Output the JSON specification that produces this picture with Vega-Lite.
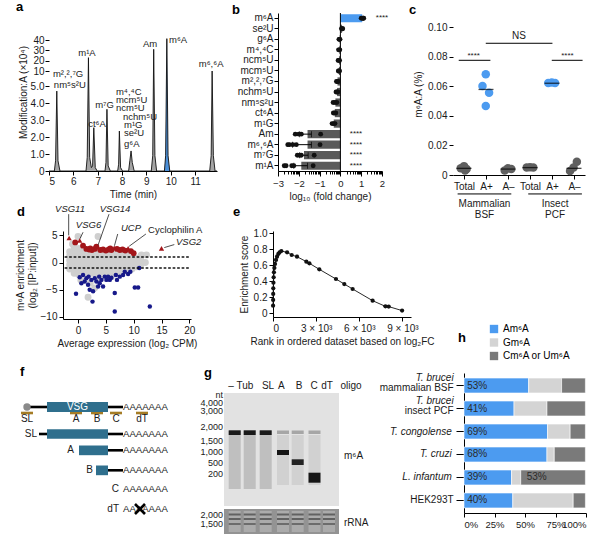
{
"$schema": "https://vega.github.io/schema/vega-lite/v6.json",
"padding": {"left": 7, "top": -18, "right": 0, "bottom": 0},
"background": "white",
"config": {
 "font": "Liberation Sans",
 "view": {"stroke": null},
 "axis": {"labelFont": "Liberation Sans", "titleFont": "Liberation Sans", "labelFontSize": 10, "titleFontSize": 10, "titleFontWeight": "normal", "labelColor": "#1a1a1a", "titleColor": "#1a1a1a", "domainColor": "#000", "tickColor": "#000", "tickSize": 4, "labelPadding": 2, "grid": false},
 "axisX": {"labelOverlap": false},
 "title": {"fontSize": 13, "fontWeight": "bold", "anchor": "start", "frame": "group", "baseline": "alphabetic", "offset": 0, "color": "#000", "font": "Liberation Sans"},
 "text": {"font": "Liberation Sans", "color": "#1a1a1a"},
 "legend": {"labelFont": "Liberation Sans"}
},
"datasets": {
 "trace": [{"t":5.0,"v":0},{"t":5.22,"v":0},{"t":5.27,"v":0.6},{"t":5.32,"v":4.7},{"t":5.37,"v":0.6},{"t":5.45,"v":0},{"t":6.52,"v":0},{"t":6.57,"v":0.8},{"t":6.62,"v":22.9},{"t":6.67,"v":0.8},{"t":6.74,"v":0.2},{"t":6.79,"v":0.3},{"t":6.84,"v":2.55},{"t":6.9,"v":0.2},{"t":6.98,"v":0},{"t":7.3,"v":0},{"t":7.34,"v":0.5},{"t":7.38,"v":3.63},{"t":7.43,"v":0.3},{"t":7.52,"v":0},{"t":7.82,"v":0},{"t":7.86,"v":0.4},{"t":7.89,"v":2.35},{"t":7.94,"v":0.2},{"t":8.02,"v":0},{"t":8.27,"v":0},{"t":8.32,"v":0.6},{"t":8.37,"v":1.18},{"t":8.42,"v":0.5},{"t":8.5,"v":0},{"t":9.2,"v":0},{"t":9.26,"v":0.9},{"t":9.3,"v":31},{"t":9.35,"v":0.9},{"t":9.42,"v":0},{"t":9.74,"v":0},{"t":9.79,"v":0.9},{"t":9.84,"v":41.3},{"t":9.89,"v":0.9},{"t":9.96,"v":0},{"t":11.6,"v":0},{"t":11.66,"v":0.9},{"t":11.7,"v":10},{"t":11.75,"v":0.9},{"t":11.82,"v":0},{"t":11.9,"v":0}],
 "aLabC": [{"t":6.56,"v":27.4,"lab":"m¹A"},{"t":6.97,"v":2.76,"lab":"ct⁶A"},{"t":7.28,"v":3.88,"lab":"m⁷G"},{"t":9.15,"v":36.1,"lab":"Am"},{"t":11.66,"v":16.8,"lab":"m⁶,⁶A"}],
 "aLabL": [{"t":5.16,"v":9.0,"lab":"m²,²,⁷G"},{"t":5.2,"v":5.33,"lab":"nm⁵s²U"},{"t":7.75,"v":4.65,"lab":"m⁴,⁴C"},{"t":7.75,"v":4.18,"lab":"mcm⁵U"},{"t":7.75,"v":3.7,"lab":"ncm⁵U"},{"t":8.04,"v":3.18,"lab":"nchm⁵U"},{"t":8.08,"v":2.7,"lab":"m¹G"},{"t":8.08,"v":2.24,"lab":"se²U"},{"t":8.08,"v":1.6,"lab":"g⁶A"},{"t":9.93,"v":40,"lab":"m⁶A"}],
 "bBars": [{"m":"m⁶A","v":1.05},{"m":"se²U","v":0.08},{"m":"g⁶A","v":-0.04},{"m":"m⁴,⁴C","v":-0.05},{"m":"ncm⁵U","v":-0.07},{"m":"mcm⁵U","v":-0.07},{"m":"m²,²,⁷G","v":-0.14},{"m":"nchm⁵U","v":-0.16},{"m":"nm⁵s²u","v":-0.24},{"m":"ct⁶A","v":-0.27},{"m":"m¹G","v":-0.32},{"m":"Am","v":-1.58},{"m":"m⁶,⁶A","v":-1.58},{"m":"m⁷G","v":-1.75},{"m":"m¹A","v":-1.88}],
 "bDots": [{"m":"m⁶A","v":1.0},{"m":"m⁶A","v":1.06},{"m":"m⁶A","v":1.1},{"m":"m⁶A","v":1.12},{"m":"se²U","v":0.05},{"m":"se²U","v":0.09},{"m":"se²U","v":0.11},{"m":"g⁶A","v":-0.07},{"m":"g⁶A","v":-0.04},{"m":"g⁶A","v":-0.02},{"m":"m⁴,⁴C","v":-0.09},{"m":"m⁴,⁴C","v":-0.05},{"m":"m⁴,⁴C","v":-0.03},{"m":"ncm⁵U","v":-0.11},{"m":"ncm⁵U","v":-0.07},{"m":"ncm⁵U","v":-0.04},{"m":"mcm⁵U","v":-0.1},{"m":"mcm⁵U","v":-0.07},{"m":"mcm⁵U","v":-0.04},{"m":"m²,²,⁷G","v":-0.19},{"m":"m²,²,⁷G","v":-0.14},{"m":"m²,²,⁷G","v":-0.1},{"m":"nchm⁵U","v":-0.21},{"m":"nchm⁵U","v":-0.16},{"m":"nchm⁵U","v":-0.12},{"m":"nm⁵s²u","v":-0.35},{"m":"nm⁵s²u","v":-0.26},{"m":"nm⁵s²u","v":-0.17},{"m":"ct⁶A","v":-0.34},{"m":"ct⁶A","v":-0.28},{"m":"ct⁶A","v":-0.22},{"m":"m¹G","v":-0.4},{"m":"m¹G","v":-0.33},{"m":"m¹G","v":-0.26},{"m":"Am","v":-2.17},{"m":"Am","v":-2.0},{"m":"Am","v":-1.88},{"m":"Am","v":-0.95},{"m":"m⁶,⁶A","v":-2.53},{"m":"m⁶,⁶A","v":-2.45},{"m":"m⁶,⁶A","v":-2.29},{"m":"m⁶,⁶A","v":-2.12},{"m":"m⁶,⁶A","v":-0.98},{"m":"m⁷G","v":-2.07},{"m":"m⁷G","v":-1.96},{"m":"m⁷G","v":-1.88},{"m":"m⁷G","v":-1.26},{"m":"m¹A","v":-2.7},{"m":"m¹A","v":-2.61},{"m":"m¹A","v":-2.34},{"m":"m¹A","v":-2.24},{"m":"m¹A","v":-1.31}],
 "bErr": [{"m":"Am","lo":-1.96,"hi":-1.39},{"m":"m⁶,⁶A","lo":-2.3,"hi":-1.39},{"m":"m⁷G","lo":-1.96,"hi":-1.55},{"m":"m¹A","lo":-2.24,"hi":-1.58}],
 "bStar": [{"m":"Am"},{"m":"m⁶,⁶A"},{"m":"m⁷G"},{"m":"m¹A"}],
 "cPts": [{"x":0.85,"v":0.0045,"frac":"Total"},{"x":1.0,"v":0.006,"frac":"Total"},{"x":1.12,"v":0.004,"frac":"Total"},{"x":1.05,"v":0.003,"frac":"Total"},{"x":1.99,"v":0.068,"frac":"A+"},{"x":1.84,"v":0.0601,"frac":"A+"},{"x":2.14,"v":0.0556,"frac":"A+"},{"x":1.99,"v":0.0466,"frac":"A+"},{"x":2.85,"v":0.003,"frac":"A–"},{"x":3.0,"v":0.0045,"frac":"A–"},{"x":3.15,"v":0.004,"frac":"A–"},{"x":3.85,"v":0.005,"frac":"Total"},{"x":4.0,"v":0.0052,"frac":"Total"},{"x":4.15,"v":0.005,"frac":"Total"},{"x":4.83,"v":0.0622,"frac":"A+"},{"x":4.99,"v":0.0625,"frac":"A+"},{"x":5.14,"v":0.0621,"frac":"A+"},{"x":5.82,"v":0.0027,"frac":"A–"},{"x":5.98,"v":0.005,"frac":"A–"},{"x":6.13,"v":0.009,"frac":"A–"}],
 "cMed": [{"x":1,"v":0.0045},{"x":2,"v":0.0578},{"x":3,"v":0.004},{"x":4,"v":0.005},{"x":5,"v":0.062},{"x":6,"v":0.0045}],
 "cLine": [{"x":0.76,"xe":2.2,"v":0.0775},{"x":1.99,"xe":5.02,"v":0.089},{"x":4.99,"xe":6.39,"v":0.0775},{"x":0.71,"xe":3.15,"v":-0.0128},{"x":3.92,"xe":6.36,"v":-0.0128}],
 "cStar": [{"x":1.44,"v":0.0805,"lab":"****"},{"x":5.7,"v":0.0805,"lab":"****"}],
 "cNS": [{"x":3.5,"v":0.0939,"lab":"NS"}],
 "cGrp": [{"x":1.93,"v":-0.0162,"lab":["Mammalian","BSF"]},{"x":5.14,"v":-0.0162,"lab":["Insect","PCF"]}],
 "dPts": [
  {"x":-1.5,"y":-1.2,"k":"n"},{"x":-1.5,"y":-0.4,"k":"n"},{"x":-1.5,"y":0.4,"k":"n"},{"x":-1.5,"y":1.2,"k":"n"},{"x":-1.5,"y":2.0,"k":"n"},
  {"x":-0.7,"y":-2.0,"k":"n"},{"x":-0.7,"y":-1.2,"k":"n"},{"x":-0.7,"y":-0.4,"k":"n"},{"x":-0.7,"y":0.4,"k":"n"},{"x":-0.7,"y":1.2,"k":"n"},{"x":-0.7,"y":2.0,"k":"n"},{"x":-0.7,"y":2.8,"k":"n"},
  {"x":0.1,"y":-2.2,"k":"n"},{"x":0.1,"y":-1.4,"k":"n"},{"x":0.1,"y":-0.6,"k":"n"},{"x":0.1,"y":0.2,"k":"n"},{"x":0.1,"y":1.0,"k":"n"},{"x":0.1,"y":1.8,"k":"n"},{"x":0.1,"y":2.6,"k":"n"},
  {"x":0.9,"y":-2.0,"k":"n"},{"x":0.9,"y":-1.2,"k":"n"},{"x":0.9,"y":-0.4,"k":"n"},{"x":0.9,"y":0.4,"k":"n"},{"x":0.9,"y":1.2,"k":"n"},{"x":0.9,"y":2.0,"k":"n"},
  {"x":1.7,"y":-2.2,"k":"n"},{"x":1.7,"y":-1.4,"k":"n"},{"x":1.7,"y":-0.6,"k":"n"},{"x":1.7,"y":0.2,"k":"n"},{"x":1.7,"y":1.0,"k":"n"},{"x":1.7,"y":1.8,"k":"n"},
  {"x":2.5,"y":-2.0,"k":"n"},{"x":2.5,"y":-1.2,"k":"n"},{"x":2.5,"y":-0.4,"k":"n"},{"x":2.5,"y":0.4,"k":"n"},{"x":2.5,"y":1.2,"k":"n"},{"x":2.5,"y":2.0,"k":"n"},
  {"x":3.3,"y":-2.2,"k":"n"},{"x":3.3,"y":-1.4,"k":"n"},{"x":3.3,"y":-0.6,"k":"n"},{"x":3.3,"y":0.2,"k":"n"},{"x":3.3,"y":1.0,"k":"n"},{"x":3.3,"y":1.8,"k":"n"},
  {"x":4.1,"y":-1.8,"k":"n"},{"x":4.1,"y":-1.0,"k":"n"},{"x":4.1,"y":-0.2,"k":"n"},{"x":4.1,"y":0.6,"k":"n"},{"x":4.1,"y":1.4,"k":"n"},{"x":4.1,"y":2.0,"k":"n"},
  {"x":4.9,"y":-2.0,"k":"n"},{"x":4.9,"y":-1.2,"k":"n"},{"x":4.9,"y":-0.4,"k":"n"},{"x":4.9,"y":0.4,"k":"n"},{"x":4.9,"y":1.2,"k":"n"},{"x":4.9,"y":1.9,"k":"n"},
  {"x":5.7,"y":-1.8,"k":"n"},{"x":5.7,"y":-1.0,"k":"n"},{"x":5.7,"y":-0.2,"k":"n"},{"x":5.7,"y":0.6,"k":"n"},{"x":5.7,"y":1.4,"k":"n"},{"x":5.7,"y":2.0,"k":"n"},
  {"x":6.5,"y":-1.6,"k":"n"},{"x":6.5,"y":-0.8,"k":"n"},{"x":6.5,"y":0.0,"k":"n"},{"x":6.5,"y":0.8,"k":"n"},{"x":6.5,"y":1.6,"k":"n"},
  {"x":7.3,"y":-1.8,"k":"n"},{"x":7.3,"y":-1.0,"k":"n"},{"x":7.3,"y":-0.2,"k":"n"},{"x":7.3,"y":0.6,"k":"n"},{"x":7.3,"y":1.4,"k":"n"},{"x":7.3,"y":2.0,"k":"n"},
  {"x":8.1,"y":-1.4,"k":"n"},{"x":8.1,"y":-0.6,"k":"n"},{"x":8.1,"y":0.2,"k":"n"},{"x":8.1,"y":1.0,"k":"n"},{"x":8.1,"y":1.8,"k":"n"},
  {"x":8.9,"y":-1.5,"k":"n"},{"x":8.9,"y":-0.7,"k":"n"},{"x":8.9,"y":0.1,"k":"n"},{"x":8.9,"y":0.9,"k":"n"},{"x":8.9,"y":1.6,"k":"n"},
  {"x":9.7,"y":-1.2,"k":"n"},{"x":9.7,"y":-0.4,"k":"n"},{"x":9.7,"y":0.4,"k":"n"},{"x":9.7,"y":1.2,"k":"n"},
  {"x":10.5,"y":-0.8,"k":"n"},{"x":10.5,"y":0.0,"k":"n"},{"x":10.5,"y":0.8,"k":"n"},
  {"x":11.3,"y":-0.4,"k":"n"},{"x":11.3,"y":0.4,"k":"n"},{"x":11.3,"y":1.2,"k":"n"},{"x":12.1,"y":0.0,"k":"n"},
  {"x":0.0,"y":4.8,"k":"n"},{"x":3.6,"y":4.8,"k":"n"},{"x":11.4,"y":1.4,"k":"n"},{"x":12.3,"y":1.4,"k":"n"},{"x":1.8,"y":-6.4,"k":"n"},{"x":3.0,"y":-4.7,"k":"n"},{"x":2.2,"y":-3.8,"k":"n"},{"x":4.0,"y":-3.0,"k":"n"},{"x":0.5,"y":-3.2,"k":"n"},{"x":-1.0,"y":3.4,"k":"n"},{"x":6.0,"y":-2.6,"k":"n"},{"x":9.5,"y":1.9,"k":"n"},
  {"x":-0.5,"y":3.7,"k":"up"},{"x":0.9,"y":3.1,"k":"up"},{"x":1.5,"y":2.5,"k":"up"},{"x":2.0,"y":2.4,"k":"up"},{"x":2.2,"y":2.6,"k":"up"},{"x":2.5,"y":2.3,"k":"up"},{"x":3.0,"y":2.5,"k":"up"},{"x":3.3,"y":2.9,"k":"up"},{"x":4.0,"y":2.3,"k":"up"},{"x":4.5,"y":2.4,"k":"up"},{"x":5.0,"y":2.2,"k":"up"},{"x":5.5,"y":2.4,"k":"up"},{"x":5.8,"y":2.6,"k":"up"},{"x":6.0,"y":2.3,"k":"up"},{"x":7.0,"y":2.5,"k":"up"},{"x":7.5,"y":2.3,"k":"up"},{"x":8.0,"y":2.4,"k":"up"},{"x":8.5,"y":2.2,"k":"up"},{"x":9.5,"y":2.1,"k":"up"},{"x":10.0,"y":1.7,"k":"up"},
  {"x":-0.36,"y":-5.75,"k":"dn"},{"x":0.6,"y":-3.8,"k":"dn"},{"x":1.8,"y":-4.1,"k":"dn"},{"x":2.1,"y":-5.0,"k":"dn"},{"x":2.7,"y":-5.3,"k":"dn"},{"x":2.6,"y":-7.2,"k":"dn"},{"x":3.3,"y":-3.5,"k":"dn"},{"x":3.9,"y":-3.8,"k":"dn"},{"x":4.5,"y":-4.4,"k":"dn"},{"x":3.6,"y":-4.4,"k":"dn"},{"x":5.1,"y":-3.2,"k":"dn"},{"x":5.7,"y":-3.2,"k":"dn"},{"x":6.6,"y":-5.6,"k":"dn"},{"x":6.6,"y":-9.0,"k":"dn"},{"x":6.8,"y":-2.3,"k":"dn"},{"x":7.5,"y":-2.6,"k":"dn"},{"x":8.1,"y":-2.3,"k":"dn"},{"x":9.0,"y":-2.1,"k":"dn"},{"x":10.2,"y":-4.6,"k":"dn"},{"x":10.8,"y":-4.6,"k":"dn"},{"x":12.9,"y":-8.1,"k":"dn"},{"x":1.2,"y":-3.5,"k":"dn"},{"x":1.5,"y":-2.9,"k":"dn"},{"x":2.4,"y":-3.2,"k":"dn"},{"x":3.0,"y":-2.9,"k":"dn"},{"x":4.2,"y":-3.2,"k":"dn"},{"x":4.8,"y":-2.6,"k":"dn"},{"x":5.4,"y":-2.6,"k":"dn"},{"x":6.0,"y":-2.8,"k":"dn"},{"x":8.4,"y":-1.7,"k":"dn"},{"x":9.4,"y":-1.7,"k":"dn"},{"x":11.0,"y":-1.0,"k":"dn"},{"x":0.9,"y":-2.3,"k":"dn"},{"x":0.3,"y":-2.7,"k":"dn"},{"x":1.9,"y":-2.6,"k":"dn"},{"x":3.8,"y":-2.6,"k":"dn"},{"x":7.0,"y":-3.2,"k":"dn"}
 ],
 "dTri": [{"x":-1.6,"y":4.5},{"x":0.3,"y":4.05},{"x":3.4,"y":2.9},{"x":6.5,"y":2.7},{"x":9.0,"y":2.6},{"x":15.0,"y":2.6}],
 "dDot": [{"x":-2.3,"xe":20,"y":1},{"x":-2.3,"xe":20,"y":-1}],
 "dArr": [{"x":-1.68,"y":8.9,"xe":-1.68,"ye":5.0},{"x":0.9,"y":5.57,"xe":0.35,"ye":4.4},{"x":5.57,"y":8.9,"xe":3.6,"ye":3.2},{"x":7.13,"y":5.25,"xe":6.55,"ye":3.1},{"x":12.2,"y":5.25,"xe":9.2,"ye":3.0},{"x":17.3,"y":3.3,"xe":15.5,"ye":2.75}],
 "dLabC": [{"x":-1.44,"y":9.85,"lab":"VSG11"},{"x":1.89,"y":6.87,"lab":"VSG6"},{"x":6.65,"y":9.85,"lab":"VSG14"},{"x":9.52,"y":6.35,"lab":"UCP"}],
 "ePts": [{"r":5,"es":0.092},{"r":10,"es":0.163},{"r":15,"es":0.238},{"r":20,"es":0.308},{"r":30,"es":0.379},{"r":45,"es":0.446},{"r":65,"es":0.508},{"r":95,"es":0.563},{"r":140,"es":0.613},{"r":210,"es":0.663},{"r":280,"es":0.704},{"r":370,"es":0.738},{"r":460,"es":0.758},{"r":580,"es":0.775},{"r":980,"es":0.758},{"r":1300,"es":0.725},{"r":1670,"es":0.704},{"r":2320,"es":0.642},{"r":2530,"es":0.621},{"r":3220,"es":0.546},{"r":4380,"es":0.425},{"r":4960,"es":0.362},{"r":5540,"es":0.3},{"r":6930,"es":0.154},{"r":7820,"es":0.083},{"r":8050,"es":0.08},{"r":8980,"es":0.03}],
 "fLine": [{"x":-22,"xe":-2,"y":34},{"x":59,"xe":74,"y":34},{"x":-10,"xe":-2,"y":61},{"x":59,"xe":74,"y":61},{"x":59,"xe":74,"y":77.3},{"x":59,"xe":74,"y":97.3}],
 "fBrown": [{"x":-28,"xe":-16,"y":40},{"x":21,"xe":33,"y":40},{"x":42,"xe":54,"y":40},{"x":61,"xe":73,"y":40},{"x":87,"xe":99,"y":40}],
 "fRect": [{"x":-2,"xe":59,"y":29,"ye":39},{"x":-2,"xe":59,"y":56.3,"ye":65.7},{"x":30,"xe":59,"y":72.5,"ye":82.2},{"x":47,"xe":59,"y":92.5,"ye":102.2}],
 "fPolyA": [{"x":74,"y":34},{"x":74,"y":61},{"x":74,"y":77.3},{"x":74,"y":97.3},{"x":74,"y":116},{"x":74,"y":135.7}],
 "fRight": [{"x":-12,"y":61,"lab":"SL"},{"x":25,"y":77.3,"lab":"A"},{"x":44,"y":97.3,"lab":"B"},{"x":70,"y":116,"lab":"C"},{"x":70,"y":135.7,"lab":"dT"}],
 "fProbe": [{"x":-22,"y":46,"lab":"SL"},{"x":27,"y":46,"lab":"A"},{"x":48,"y":46,"lab":"B"},{"x":67,"y":46,"lab":"C"},{"x":93,"y":46,"lab":"dT"}],
 "fCross": [{"x":86,"y":131,"xe":96,"ye":141},{"x":86,"y":141,"xe":96,"ye":131}],
 "gel": [
  {"x":0,"xe":115,"y":20,"ye":133,"int":0.06},
  {"x":0,"xe":115,"y":136,"ye":161,"int":0.38},
  {"x":4.7,"xe":16.7,"y":58,"ye":116,"int":0.2},{"x":19.7,"xe":31.7,"y":58,"ye":116,"int":0.2},{"x":35.7,"xe":47.7,"y":58,"ye":116,"int":0.2},
  {"x":53,"xe":65,"y":62,"ye":112,"int":0.13},{"x":67.7,"xe":79.7,"y":62,"ye":112,"int":0.13},{"x":84.5,"xe":96.5,"y":62,"ye":112,"int":0.13},
  {"x":4.7,"xe":16.7,"y":57.3,"ye":62,"int":0.95},{"x":19.7,"xe":31.7,"y":57.3,"ye":62,"int":0.95},{"x":35.7,"xe":47.7,"y":57.3,"ye":62,"int":0.95},
  {"x":53,"xe":65,"y":57.5,"ye":61,"int":0.3},{"x":67.7,"xe":79.7,"y":57.5,"ye":61,"int":0.3},{"x":84.5,"xe":96.5,"y":57.5,"ye":61,"int":0.3},
  {"x":53,"xe":65,"y":77,"ye":82,"int":0.97},{"x":67.7,"xe":79.7,"y":86.3,"ye":92,"int":0.9},{"x":84.5,"xe":96.5,"y":99.7,"ye":109.7,"int":0.97},
  {"x":4.7,"xe":16.7,"y":138,"ye":159,"int":0.28},{"x":19.7,"xe":31.7,"y":138,"ye":159,"int":0.28},{"x":35.7,"xe":47.7,"y":138,"ye":159,"int":0.28},{"x":53,"xe":65,"y":138,"ye":159,"int":0.28},{"x":67.7,"xe":79.7,"y":138,"ye":159,"int":0.28},{"x":84.5,"xe":96.5,"y":138,"ye":159,"int":0.28},{"x":99,"xe":111,"y":138,"ye":159,"int":0.28},
  {"x":4.7,"xe":16.7,"y":140.5,"ye":142.5,"int":0.6},{"x":19.7,"xe":31.7,"y":140.5,"ye":142.5,"int":0.6},{"x":35.7,"xe":47.7,"y":140.5,"ye":142.5,"int":0.6},{"x":53,"xe":65,"y":140.5,"ye":142.5,"int":0.6},{"x":67.7,"xe":79.7,"y":140.5,"ye":142.5,"int":0.6},{"x":84.5,"xe":96.5,"y":140.5,"ye":142.5,"int":0.6},{"x":99,"xe":111,"y":140.5,"ye":142.5,"int":0.6},
  {"x":4.7,"xe":16.7,"y":145,"ye":147,"int":0.6},{"x":19.7,"xe":31.7,"y":145,"ye":147,"int":0.6},{"x":35.7,"xe":47.7,"y":145,"ye":147,"int":0.6},{"x":53,"xe":65,"y":145,"ye":147,"int":0.6},{"x":67.7,"xe":79.7,"y":145,"ye":147,"int":0.6},{"x":84.5,"xe":96.5,"y":145,"ye":147,"int":0.6},{"x":99,"xe":111,"y":145,"ye":147,"int":0.6},
  {"x":4.7,"xe":16.7,"y":150,"ye":152,"int":0.55},{"x":19.7,"xe":31.7,"y":150,"ye":152,"int":0.55},{"x":35.7,"xe":47.7,"y":150,"ye":152,"int":0.55},{"x":53,"xe":65,"y":150,"ye":152,"int":0.55},{"x":67.7,"xe":79.7,"y":150,"ye":152,"int":0.55},{"x":84.5,"xe":96.5,"y":150,"ye":152,"int":0.55},{"x":99,"xe":111,"y":150,"ye":152,"int":0.55}
 ],
 "gHead": [{"x":7,"y":13,"lab":"–"},{"x":21,"y":13,"lab":"Tub"},{"x":44,"y":13,"lab":"SL"},{"x":57.3,"y":13,"lab":"A"},{"x":75,"y":13,"lab":"B"},{"x":90,"y":13,"lab":"C"},{"x":103,"y":13,"lab":"dT"},{"x":127,"y":13,"lab":"oligo"}],
 "gMark": [{"x":-1,"y":22,"lab":"nt"},{"x":-1,"y":30,"lab":"4,000"},{"x":-1,"y":38,"lab":"3,000"},{"x":-1,"y":54,"lab":"2,000"},{"x":-1,"y":68,"lab":"1,500"},{"x":-1,"y":79,"lab":"1,000"},{"x":-1,"y":90,"lab":"500"},{"x":-1,"y":101,"lab":"200"},{"x":-1,"y":142,"lab":"2,000"},{"x":-1,"y":151,"lab":"1,500"}],
 "gSide": [{"x":120,"y":83,"lab":"m⁶A"},{"x":120,"y":150,"lab":"rRNA"}],
 "hBars": [
  {"sp":"Tb BSF","type":"Am⁶A","k":1,"pct":53},{"sp":"Tb BSF","type":"Gm⁶A","k":2,"pct":27},{"sp":"Tb BSF","type":"Cm⁶A or Um⁶A","k":3,"pct":19.5},
  {"sp":"Tb PCF","type":"Am⁶A","k":1,"pct":41},{"sp":"Tb PCF","type":"Gm⁶A","k":2,"pct":27},{"sp":"Tb PCF","type":"Cm⁶A or Um⁶A","k":3,"pct":31.5},
  {"sp":"Tcon","type":"Am⁶A","k":1,"pct":68.5},{"sp":"Tcon","type":"Gm⁶A","k":2,"pct":18.5},{"sp":"Tcon","type":"Cm⁶A or Um⁶A","k":3,"pct":12.5},
  {"sp":"Tcru","type":"Am⁶A","k":1,"pct":68},{"sp":"Tcru","type":"Gm⁶A","k":2,"pct":6},{"sp":"Tcru","type":"Cm⁶A or Um⁶A","k":3,"pct":25.5},
  {"sp":"Linf","type":"Am⁶A","k":1,"pct":39},{"sp":"Linf","type":"Gm⁶A","k":2,"pct":7.5},{"sp":"Linf","type":"Cm⁶A or Um⁶A","k":3,"pct":53},
  {"sp":"HEK","type":"Am⁶A","k":1,"pct":40},{"sp":"HEK","type":"Gm⁶A","k":2,"pct":49.5},{"sp":"HEK","type":"Cm⁶A or Um⁶A","k":3,"pct":10}
 ],
 "hPct": [{"sp":"Tb BSF","lab":"53%"},{"sp":"Tb PCF","lab":"41%"},{"sp":"Tcon","lab":"69%"},{"sp":"Tcru","lab":"68%"},{"sp":"Linf","lab":"39%"},{"sp":"HEK","lab":"40%"}],
 "hLab2": [{"sp":"Tb BSF","it":"T. brucei","nm":"mammalian BSF"},{"sp":"Tb PCF","it":"T. brucei","nm":"insect PCF"}],
 "hLab1": [{"sp":"Tcon","it":"T. congolense"},{"sp":"Tcru","it":"T. cruzi"},{"sp":"Linf","it":"L. infantum"}]
},
"align": "none",
"spacing": -64,
"vconcat": [
 {
  "bounds": "flush", "spacing": 0,
  "hconcat": [
   {"width": 1, "height": 220, "data": {"values": [{"s": 0}]}, "mark": {"type": "rule", "color": "#ffffff", "strokeWidth": 0.5}, "encoding": {"x": {"datum": -40, "type": "quantitative", "scale": {"domain": [0, 1]}, "axis": null}, "y": {"datum": -30, "type": "quantitative", "scale": {"domain": [0, 220], "reverse": true}, "axis": null}, "y2": {"datum": 220}}},
   {
    "width": 168, "height": 158,
    "title": {"text": "a", "dx": -33, "dy": 5, "frame": "group"},
    "encoding": {
     "x": {"field": "t", "type": "quantitative", "scale": {"domain": [5, 11.9], "nice": false, "zero": false}, "axis": {"values": [5,6,7,8,9,10,11], "format": "d", "title": "Time (min)", "labelPadding": 1, "titlePadding": 3}},
     "y": {"field": "v", "type": "quantitative", "scale": {"type": "linear", "domain": [0, 5, 10, 40, 66], "range": [158, 73, 58, 27, 0], "nice": false, "zero": false}, "axis": {"values": [0,1,2,3,4,5,10,20,30,40], "tickCount": 20, "domain": false, "labelExpr": "datum.value == 0 ? '0' : (datum.value <= 5 ? format(datum.value, '.1f') : format(datum.value, 'd'))", "title": "Modification:A (×10⁴)", "labelPadding": 1, "titlePadding": 2}}
    },
    "layer": [
     {"data": {"name": "trace"}, "mark": {"type": "area", "color": "#9a9a9a", "opacity": 0.9}, "encoding": {"y2": {"datum": 0}}},
     {"data": {"name": "trace"}, "transform": [{"filter": "datum.t >= 9.74 && datum.t <= 9.96"}], "mark": {"type": "area", "color": "#4a8fd8"}, "encoding": {"y2": {"datum": 0}}},
     {"data": {"name": "trace"}, "mark": {"type": "line", "color": "#111", "strokeWidth": 0.9}},
     {"data": {"values": [{"s": 0}]}, "mark": {"type": "rule", "color": "#000", "strokeWidth": 1}, "encoding": {"x": {"datum": 5}, "y": {"datum": 0}, "y2": {"datum": 58}}},
     {"data": {"name": "aLabC"}, "mark": {"type": "text", "fontSize": 9.5, "align": "center", "baseline": "middle"}, "encoding": {"text": {"field": "lab"}}},
     {"data": {"name": "aLabL"}, "mark": {"type": "text", "fontSize": 9.5, "align": "left", "baseline": "middle"}, "encoding": {"text": {"field": "lab"}}}
    ]
   },
   {"width": 61, "height": 220, "data": {"values": [{"s": 0}]}, "mark": {"type": "point", "opacity": 0}, "encoding": {}},
   {
    "width": 104, "height": 158,
    "title": {"text": "b", "dx": -46, "dy": 8, "frame": "group"},
    "encoding": {
     "y": {"field": "m", "type": "nominal", "scale": {"domain": ["m⁶A","se²U","g⁶A","m⁴,⁴C","ncm⁵U","mcm⁵U","m²,²,⁷G","nchm⁵U","nm⁵s²u","ct⁶A","m¹G","Am","m⁶,⁶A","m⁷G","m¹A"], "paddingInner": 0.22, "paddingOuter": 0.11}, "axis": {"title": null, "labelPadding": 1, "labelFontSize": 10}}
    },
    "layer": [
     {"data": {"name": "bBars"}, "mark": {"type": "bar"}, "encoding": {
       "x": {"field": "v", "type": "quantitative", "title": "log₁₀ (fold change)", "scale": {"domain": [-3, 2], "nice": false, "zero": false}, "axis": {"values": [-3,-2.699,-2.523,-2.398,-2.301,-2.222,-2.155,-2.097,-2.046,-2,-1.699,-1.523,-1.398,-1.301,-1.222,-1.155,-1.097,-1.046,-1,-0.699,-0.523,-0.398,-0.301,-0.222,-0.155,-0.097,-0.046,0,0.301,0.477,0.602,0.699,0.778,0.845,0.903,0.954,1,1.301,1.477,1.602,1.699,1.778,1.845,1.903,1.954,2], "tickCount": 100, "labelExpr": "abs(datum.value - round(datum.value)) < 0.01 ? format(datum.value, 'd') : ''", "tickSize": {"condition": {"test": "abs(datum.value - round(datum.value)) < 0.01", "value": 5}, "value": 3}, "labelFlush": false, "labelOverlap": false, "labelFontSize": 9.5, "titlePadding": 4}},
       "color": {"condition": {"test": "datum.m === 'm⁶A'", "value": "#4c9bf0"}, "value": "#5a5a5a"}}},
     {"data": {"values": [{"s": 0}]}, "mark": {"type": "rule", "color": "#000", "strokeWidth": 1}, "encoding": {"x": {"datum": 0}, "y": null}},
     {"data": {"name": "bErr"}, "mark": {"type": "rule", "color": "#000", "strokeWidth": 1}, "encoding": {"x": {"field": "lo", "type": "quantitative", "title": "log₁₀ (fold change)"}, "x2": {"field": "hi"}}},
     {"data": {"name": "bErr"}, "mark": {"type": "tick", "color": "#000", "size": 6, "thickness": 1}, "encoding": {"x": {"field": "lo", "type": "quantitative", "title": "log₁₀ (fold change)"}}},
     {"data": {"name": "bErr"}, "mark": {"type": "tick", "color": "#000", "size": 6, "thickness": 1}, "encoding": {"x": {"field": "hi", "type": "quantitative", "title": "log₁₀ (fold change)"}}},
     {"data": {"name": "bDots"}, "mark": {"type": "circle", "color": "#111", "size": 24, "opacity": 1}, "encoding": {"x": {"field": "v", "type": "quantitative", "title": "log₁₀ (fold change)"}}},
     {"data": {"name": "bStar"}, "mark": {"type": "text", "text": "****", "fontSize": 8, "baseline": "middle", "align": "center"}, "encoding": {"x": {"datum": 0.75}}},
     {"data": {"values": [{"m": "m⁶A"}]}, "mark": {"type": "text", "text": "****", "fontSize": 8, "baseline": "middle", "align": "center"}, "encoding": {"x": {"datum": 2.0}}}
    ]
   },
   {"width": 71, "height": 220, "data": {"values": [{"s": 0}]}, "mark": {"type": "point", "opacity": 0}, "encoding": {}},
   {
    "width": 132, "height": 162,
    "title": {"text": "c", "dx": -44, "dy": 8, "frame": "group"},
    "encoding": {
     "x": {"field": "x", "type": "quantitative", "scale": {"domain": [0.5, 6.5], "nice": false, "zero": false}, "axis": {"values": [1,2,3,4,5,6], "tickCount": 20, "labelExpr": "['Total','A+','A–','Total','A+','A–'][datum.value - 1]", "title": null, "labelPadding": 2}},
     "y": {"field": "v", "type": "quantitative", "scale": {"domain": [0, 0.10946], "nice": false}, "axis": {"values": [0,0.02,0.04,0.06,0.08,0.1], "tickCount": 20, "domain": false, "labelExpr": "datum.value == 0 ? '0' : format(datum.value, '.2f')", "title": "m⁶A:A (%)", "titlePadding": 4}}
    },
    "layer": [
     {"data": {"name": "cPts"}, "mark": {"type": "circle", "size": 72, "opacity": 1}, "encoding": {"color": {"condition": {"test": "datum.frac === 'A+'", "value": "#4c9bf0"}, "value": "#5f5f5f"}}},
     {"data": {"name": "cMed"}, "mark": {"type": "tick", "orient": "horizontal", "size": 15, "thickness": 1.3, "color": "#000"}},
     {"data": {"values": [{"s": 0}]}, "mark": {"type": "rule", "color": "#000", "strokeWidth": 1}, "encoding": {"x": {"datum": 0.5}, "y": {"datum": 0}, "y2": {"datum": 0.1}}},
     {"data": {"name": "cLine"}, "mark": {"type": "rule", "color": "#000", "strokeWidth": 1}, "encoding": {"x2": {"field": "xe"}}},
     {"data": {"name": "cStar"}, "mark": {"type": "text", "fontSize": 8, "baseline": "middle", "align": "center"}, "encoding": {"text": {"field": "lab"}}},
     {"data": {"name": "cNS"}, "mark": {"type": "text", "fontSize": 10, "baseline": "middle", "align": "center"}, "encoding": {"text": {"field": "lab"}}},
     {"data": {"name": "cGrp"}, "mark": {"type": "text", "fontSize": 10, "baseline": "top", "align": "center", "lineHeight": 11}, "encoding": {"text": {"field": "lab"}}}
    ]
   }
  ]
 },
 {
  "bounds": "flush", "spacing": 0,
  "hconcat": [
   {"width": 15, "height": 144, "data": {"values": [{"s": 0}]}, "mark": {"type": "rule", "color": "#ffffff", "strokeWidth": 0.5}, "encoding": {"x": {"datum": -40, "type": "quantitative", "scale": {"domain": [0, 15]}, "axis": null}, "y": {"datum": -60, "type": "quantitative", "scale": {"domain": [0, 144], "reverse": true}, "axis": null}, "y2": {"datum": 144}}},
   {
    "width": 128, "height": 88,
    "title": {"text": "d", "dx": -46, "dy": 19, "frame": "group"},
    "encoding": {
     "x": {"field": "x", "type": "quantitative", "title": "Average expression (log₂ CPM)", "scale": {"domain": [-2.7, 20.3], "nice": false, "zero": false}, "axis": {"values": [0,5,10,15,20], "format": "d", "tickCount": 20, "titlePadding": 3}},
     "y": {"field": "y", "type": "quantitative", "title": ["m⁶A enrichment", "(log₂ [IP:input])"], "scale": {"domain": [-10.4, 5.8], "nice": false, "zero": false}, "axis": {"values": [-10,-5,0,5], "tickCount": 20, "labelExpr": "format(datum.value, 'd')", "titlePadding": 3}}
    },
    "layer": [
     {"data": {"name": "dPts"}, "mark": {"type": "circle", "opacity": 1}, "encoding": {
       "color": {"field": "k", "type": "nominal", "scale": {"domain": ["n","up","dn"], "range": ["#cfcfcf","#a3161a","#17198a"]}, "legend": null},
       "size": {"field": "k", "type": "nominal", "scale": {"domain": ["n","up","dn"], "range": [48, 20, 22]}, "legend": null}}},
     {"data": {"name": "dTri"}, "mark": {"type": "point", "shape": "triangle-up", "filled": true, "color": "#a3161a", "size": 28, "opacity": 1}},
     {"data": {"name": "dDot"}, "mark": {"type": "rule", "color": "#111", "strokeWidth": 1.6, "strokeDash": [1.5, 3], "strokeCap": "round"}, "encoding": {"x2": {"field": "xe"}}},
     {"data": {"name": "dArr"}, "mark": {"type": "rule", "color": "#222", "strokeWidth": 0.8}, "encoding": {"x2": {"field": "xe"}, "y2": {"field": "ye"}}},
     {"data": {"name": "dLabC"}, "mark": {"type": "text", "fontSize": 9.5, "fontStyle": "italic", "align": "center", "baseline": "middle"}, "encoding": {"text": {"field": "lab"}}},
     {"data": {"values": [{"x": 17.6, "y": 3.75, "lab": "VSG2"}]}, "mark": {"type": "text", "fontSize": 9.5, "fontStyle": "italic", "align": "left", "baseline": "middle"}, "encoding": {"text": {"field": "lab"}}},
     {"data": {"values": [{"x": 12.58, "y": 5.97, "lab": "Cyclophilin A"}]}, "mark": {"type": "text", "fontSize": 9.5, "align": "left", "baseline": "middle"}, "encoding": {"text": {"field": "lab"}}}
    ]
   },
   {"width": 82, "height": 144, "data": {"values": [{"s": 0}]}, "mark": {"type": "point", "opacity": 0}, "encoding": {}},
   {
    "width": 138, "height": 86,
    "title": {"text": "e", "dx": -40, "dy": -5, "frame": "group"},
    "data": {"name": "ePts"},
    "encoding": {
     "x": {"field": "r", "type": "quantitative", "title": "Rank in ordered dataset based on log₂FC", "scale": {"domain": [0, 9600], "nice": false}, "axis": {"values": [0, 3000, 6000, 9000], "tickCount": 20, "labelExpr": "datum.value == 0 ? '0' : format(datum.value / 1000, 'd') + ' × 10³'", "titlePadding": 3}},
     "y": {"field": "es", "type": "quantitative", "title": "Enrichment score", "scale": {"domain": [-0.05, 1.025], "nice": false, "zero": false}, "axis": {"values": [0, 0.2, 0.4, 0.6, 0.8, 1.0], "tickCount": 20, "labelExpr": "datum.value == 0 ? '0' : format(datum.value, '.1f')", "titlePadding": 4}}
    },
    "layer": [
     {"mark": {"type": "line", "color": "#111", "strokeWidth": 0.9}},
     {"mark": {"type": "circle", "color": "#111", "size": 18, "opacity": 1}}
    ]
   }
  ]
 },
 {
  "bounds": "flush", "spacing": 0,
  "hconcat": [
   {"width": 1, "height": 170, "data": {"values": [{"s": 0}]}, "mark": {"type": "rule", "color": "#ffffff", "strokeWidth": 0.5}, "encoding": {"x": {"datum": -40, "type": "quantitative", "scale": {"domain": [0, 1]}, "axis": null}, "y": {"datum": -60, "type": "quantitative", "scale": {"domain": [0, 170], "reverse": true}, "axis": null}, "y2": {"datum": 170}}},
   {
    "width": 175, "height": 160,
    "title": {"text": "f", "dx": -29, "dy": 10, "frame": "group"},
    "encoding": {
     "x": {"field": "x", "type": "quantitative", "scale": {"domain": [0, 175], "nice": false, "zero": false}, "axis": null},
     "y": {"field": "y", "type": "quantitative", "scale": {"domain": [0, 160], "nice": false, "zero": false, "reverse": true}, "axis": null}
    },
    "layer": [
     {"data": {"name": "fLine"}, "mark": {"type": "rule", "color": "#000", "strokeWidth": 2.6}, "encoding": {"x2": {"field": "xe"}}},
     {"data": {"name": "fBrown"}, "mark": {"type": "rule", "color": "#a57c25", "strokeWidth": 2.6}, "encoding": {"x2": {"field": "xe"}}},
     {"data": {"name": "fRect"}, "mark": {"type": "rect", "color": "#2f6f8d"}, "encoding": {"x2": {"field": "xe"}, "y2": {"field": "ye"}}},
     {"data": {"values": [{"x": -22, "y": 34}]}, "mark": {"type": "circle", "color": "#8a8a8a", "size": 55, "opacity": 1}},
     {"data": {"values": [{"x": 28.5, "y": 34, "lab": "VSG"}]}, "mark": {"type": "text", "color": "#ffffff", "fontSize": 10, "align": "center", "baseline": "middle"}, "encoding": {"text": {"field": "lab"}}},
     {"data": {"name": "fPolyA"}, "mark": {"type": "text", "text": "AAAAAAA", "fontSize": 9.6, "align": "left", "baseline": "middle"}},
     {"data": {"name": "fRight"}, "mark": {"type": "text", "fontSize": 10, "align": "right", "baseline": "middle"}, "encoding": {"text": {"field": "lab"}}},
     {"data": {"name": "fProbe"}, "mark": {"type": "text", "fontSize": 10, "align": "center", "baseline": "middle"}, "encoding": {"text": {"field": "lab"}}},
     {"data": {"name": "fCross"}, "mark": {"type": "rule", "color": "#000", "strokeWidth": 2.6}, "encoding": {"x2": {"field": "xe"}, "y2": {"field": "ye"}}}
    ]
   },
   {
    "width": 240, "height": 163,
    "title": {"text": "g", "dx": -20, "dy": 11, "frame": "group"},
    "encoding": {
     "x": {"field": "x", "type": "quantitative", "scale": {"domain": [0, 240], "nice": false, "zero": false}, "axis": null},
     "y": {"field": "y", "type": "quantitative", "scale": {"domain": [0, 163], "nice": false, "zero": false, "reverse": true}, "axis": null}
    },
    "layer": [
     {"data": {"name": "gel"}, "mark": {"type": "rect"}, "encoding": {"x2": {"field": "xe"}, "y2": {"field": "ye"}, "color": {"field": "int", "type": "quantitative", "scale": {"domain": [0, 1], "range": ["#f2f2f2", "#101010"]}, "legend": null}}},
     {"data": {"name": "gHead"}, "mark": {"type": "text", "fontSize": 10, "align": "center", "baseline": "middle"}, "encoding": {"text": {"field": "lab"}}},
     {"data": {"name": "gMark"}, "mark": {"type": "text", "fontSize": 9, "align": "right", "baseline": "middle"}, "encoding": {"text": {"field": "lab"}}},
     {"data": {"name": "gSide"}, "mark": {"type": "text", "fontSize": 10, "align": "left", "baseline": "middle"}, "encoding": {"text": {"field": "lab"}}}
    ]
   },
   {
    "width": 122, "height": 140,
    "title": {"text": "h", "dx": -6, "dy": 25, "frame": "group"},
    "encoding": {
     "y": {"field": "sp", "type": "nominal", "scale": {"domain": ["Tb BSF","Tb PCF","Tcon","Tcru","Linf","HEK"], "paddingInner": 0.35, "paddingOuter": 0.22}, "axis": {"title": null, "labels": false, "tickSize": 8}}
    },
    "layer": [
     {"data": {"name": "hBars"}, "mark": {"type": "bar", "stroke": "#ffffff", "strokeWidth": 0.6}, "encoding": {
       "x": {"field": "pct", "type": "quantitative", "stack": "zero", "scale": {"domain": [0, 100], "nice": false}, "axis": {"values": [0,25,50,75,100], "tickCount": 20, "labelExpr": "datum.value + '%'", "title": null, "labelPadding": 2, "labelOverlap": false, "labelFontSize": 9.5}},
       "color": {"field": "type", "type": "nominal", "sort": ["Am⁶A","Gm⁶A","Cm⁶A or Um⁶A"], "scale": {"domain": ["Am⁶A","Gm⁶A","Cm⁶A or Um⁶A"], "range": ["#4c9bf0","#d4d4d4","#7a7a7a"]}, "legend": {"orient": "none", "legendX": 25, "legendY": -49, "title": null, "symbolType": "square", "symbolSize": 70, "symbolStrokeWidth": 0, "labelFontSize": 10, "rowPadding": 3.5, "labelOffset": 4}},
       "order": {"field": "k", "type": "quantitative"}}},
     {"data": {"name": "hPct"}, "mark": {"type": "text", "fontSize": 10, "align": "left", "baseline": "middle", "color": "#2a2a2a"}, "encoding": {"x": {"datum": 2.6}, "text": {"field": "lab"}}},
     {"data": {"values": [{"sp": "Linf", "lab": "53%"}]}, "mark": {"type": "text", "fontSize": 10, "align": "left", "baseline": "middle", "color": "#2a2a2a"}, "encoding": {"x": {"datum": 51.4}, "text": {"field": "lab"}}},
     {"data": {"name": "hLab2"}, "mark": {"type": "text", "fontSize": 10, "fontStyle": "italic", "align": "right", "baseline": "middle", "yOffset": -8}, "encoding": {"x": {"datum": -8.5}, "text": {"field": "it"}}},
     {"data": {"name": "hLab2"}, "mark": {"type": "text", "fontSize": 10, "align": "right", "baseline": "middle", "yOffset": 2.5}, "encoding": {"x": {"datum": -8.5}, "text": {"field": "nm"}}},
     {"data": {"name": "hLab1"}, "mark": {"type": "text", "fontSize": 10, "fontStyle": "italic", "align": "right", "baseline": "middle"}, "encoding": {"x": {"datum": -10}, "text": {"field": "it"}}},
     {"data": {"values": [{"sp": "HEK", "it": "HEK293T"}]}, "mark": {"type": "text", "fontSize": 10, "align": "right", "baseline": "middle"}, "encoding": {"x": {"datum": -8.5}, "text": {"field": "it"}}}
    ]
   }
  ]
 }
]
}
